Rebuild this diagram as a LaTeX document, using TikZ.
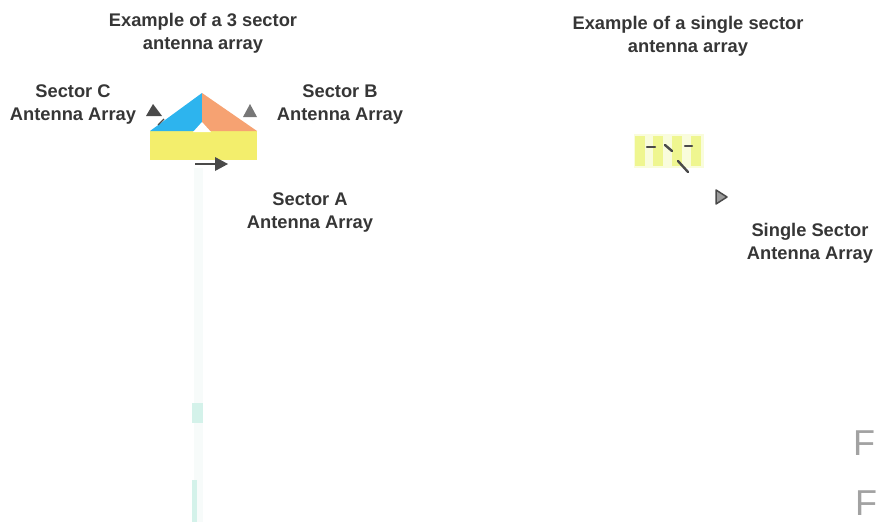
\documentclass[tikz,border=0pt]{standalone}
\usepackage{fontspec}
\setmainfont{Liberation Sans}
\definecolor{ink}{HTML}{363636}
\definecolor{headgray}{HTML}{4A4A4A}
\definecolor{sectorblue}{HTML}{2DB4EE}
\definecolor{sectororange}{HTML}{F6A272}
\definecolor{sectoryellow}{HTML}{F3EE6C}
\definecolor{glowbase}{HTML}{F9FCDC}
\definecolor{glowcol}{HTML}{EFF690}
\definecolor{mastfaint}{HTML}{F7FBFA}
\definecolor{mastcyan}{HTML}{D4F2EA}
\definecolor{lettergray}{HTML}{A2A2A2}
\begin{document}
\begin{tikzpicture}[x=1pt,y=-1pt,
  lbl/.style={font=\bfseries\fontsize{18.3}{23}\selectfont, text=ink, align=center, inner sep=0pt},
  arrowhead/.style={fill=headgray, draw=none},
  stub/.style={draw=headgray, line width=1.3pt},
  element/.style={draw=headgray, line width=2.4pt, line cap=round},
  bigletter/.style={font=\fontsize{36}{38}\selectfont, text=lettergray, inner sep=0pt, anchor=base west}
]
\useasboundingbox (0,0) rectangle (878,522);

% faint mast below the three-sector array
\fill[mastfaint] (194,168) rectangle (203,522);
\fill[mastcyan] (192,403) rectangle (203,423);
\fill[mastcyan] (192,480) rectangle (197,522);

% three-sector antenna array
\fill[sectoryellow] (150,131) rectangle (257,160);
\fill[sectorblue] (202,93) -- (150,131) -- (202,131) -- cycle;
\fill[sectororange] (202,93) -- (257,131) -- (202,131) -- cycle;
\fill[white] (202,122) -- (193,132) -- (211,132) -- cycle;

% sector direction markers
\fill[arrowhead] (153,104) -- (162,116) -- (146,116) -- cycle;
\draw[stub] (158,125) -- (164,119);
\fill[arrowhead, fill=headgray!75] (250,104) -- (257,117) -- (243,117) -- cycle;
\draw[stub] (195,164) -- (215,164);
\fill[arrowhead] (215,157) -- (228,164) -- (215,171) -- cycle;

% single-sector antenna array
\fill[glowbase] (634,134) rectangle (704,168);
\foreach \cx in {640,658,677,696}
  \fill[glowcol] (\cx-5,136) rectangle (\cx+5,166);
\draw[element] (647,147) -- (655,147);
\draw[element] (665,145) -- (672,151);
\draw[element] (685,146) -- (692,146);
\draw[element] (678,161) -- (688,172);
\filldraw[draw=headgray, fill=headgray!55, line width=1.5pt, line join=round]
  (716,190) -- (727,197) -- (716,204) -- cycle;

% labels
\node[lbl] (t3) at (203,33) {Example of a 3 sector\\antenna array};
\node[lbl] (tC) at (73,105) {Sector C\\Antenna Array};
\node[lbl] (tB) at (340,105) {Sector B\\Antenna Array};
\node[lbl] (tA) at (310,213) {Sector A\\Antenna Array};
\node[lbl] (t1) at (688,36) {Example of a single sector\\antenna array};
\node[lbl] (tS) at (810,243) {Single Sector\\Antenna Array};

% letters at the right edge
\node[bigletter] (f1) at (853,455) {F};
\node[bigletter] (f2) at (855,515) {F};
\end{tikzpicture}
\end{document}
